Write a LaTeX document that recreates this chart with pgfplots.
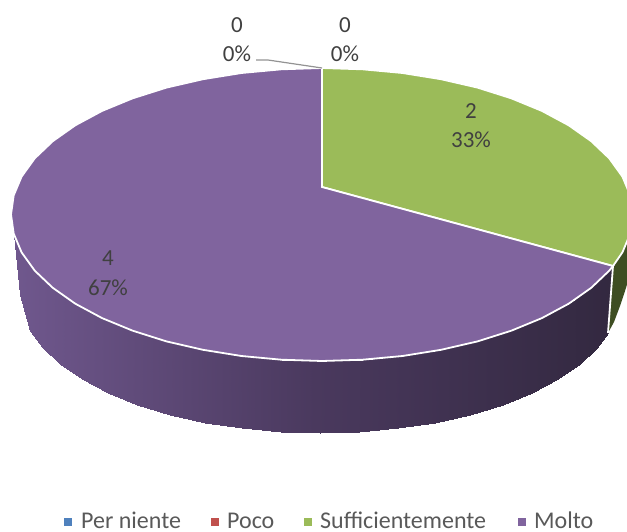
\documentclass[border=0pt]{standalone}
\usepackage{fontspec}
\setmainfont{Carlito}
\usepackage{pgfplots}
\pgfplotsset{compat=1.18}
\definecolor{cgreen}{RGB}{155,187,89}
\definecolor{cpurple}{RGB}{128,100,158}
\definecolor{cgreenside}{RGB}{62,78,34}
\definecolor{cblue}{RGB}{79,129,189}
\definecolor{cred}{RGB}{192,80,77}
\definecolor{ctext}{RGB}{64,64,64}
\definecolor{cleg}{RGB}{89,89,89}
\tikzset{lab/.style={font=\fontsize{23}{27}\selectfont,text=ctext,inner sep=0pt,anchor=base},
  leg/.style={font=\fontsize{24}{28}\selectfont,text=cleg,inner sep=0pt,anchor=base west}}
\begin{document}
\begin{tikzpicture}
\begin{axis}[
  scale only axis,width=627pt,height=531pt,
  xmin=0,xmax=627,ymin=0,ymax=531,y dir=reverse,
  hide axis,clip=true,
  colormap={side}{rgb255=(112,88,142) rgb255=(74,57,94) rgb255=(50,40,63)},
  colormap name=side,
  point meta min=10,point meta max=620,
]
% side of the purple slice
\addplot[surf,shader=interp,mesh/rows=2,point meta=x] coordinates {
  (13.7,233.6)(21.6,252.4)(34.7,270.6)(52.7,287.75)(75.3,303.7)(102.1,318.1)(132.7,330.7)(166.5,341.4)(203,349.8)(241.5,356)(281.4,359.7)(322,361)(362.6,359.7)(402.5,356)(441,349.8)(477.5,341.4)(511.3,330.7)(541.9,318.1)(568.7,303.7)(591.3,287.75)(609.3,270.6)(613,266)

  (20,295)(30.2,330.7)(42.8,347.8)(60.2,364)(82,379)(107.9,392.6)(137.4,404.5)(170,414.5)(205.2,422.5)(242.4,428.3)(280.8,431.8)(320,433)(359.2,431.8)(397.6,428.3)(434.8,422.5)(470,414.5)(502.6,404.5)(532.1,392.6)(558,379)(579.8,364)(597.2,347.8)(608,333)
};
% side of the green slice
\addplot[fill=cgreenside,draw=none] coordinates {
  (613,266)(622.4,252.4)(630.3,233.6)(633,260)(630,275)(625,291)(620,306)(614,322)(608,333)
} -- cycle;
% top: green
\addplot[fill=cgreen,draw=white,line width=1.8pt] coordinates {
  (322,187)(322,68)(362.6,69.3)(402.5,73)(441,79.2)(477.5,87.6)(511.3,98.3)(541.9,110.9)(568.7,125.3)(591.3,141.25)(609.3,158.4)(622.4,176.6)(630.3,195.4)(633,214.5)(630.3,233.6)(622.4,252.4)(613,266)
} -- cycle;
% top: purple
\addplot[fill=cpurple,draw=white,line width=1.8pt] coordinates {
  (322,187)(613,266)(609.3,270.6)(591.3,287.75)(568.7,303.7)(541.9,318.1)(511.3,330.7)(477.5,341.4)(441,349.8)(402.5,356)(362.6,359.7)(322,361)(281.4,359.7)(241.5,356)(203,349.8)(166.5,341.4)(132.7,330.7)(102.1,318.1)(75.3,303.7)(52.7,287.75)(34.7,270.6)(21.6,252.4)(13.7,233.6)(11,214.5)(13.7,195.4)(21.6,176.6)(34.7,158.4)(52.7,141.25)(75.3,125.3)(102.1,110.9)(132.7,98.3)(166.5,87.6)(203,79.2)(241.5,73)(281.4,69.3)(322,68)
} -- cycle;
% divider on the side
\addplot[white,line width=1.8pt] coordinates {(613,266)(608,333)};
% leader line
\addplot[color=gray!85,line width=1.2pt] coordinates {(256,60)(268,60)(322,68)};
% legend squares
\addplot[only marks,mark=square*,mark size=3.6pt,color=cblue] coordinates {(68,522)};
\addplot[only marks,mark=square*,mark size=3.6pt,color=cred] coordinates {(215,522)};
\addplot[only marks,mark=square*,mark size=3.6pt,color=cgreen] coordinates {(308,522)};
\addplot[only marks,mark=square*,mark size=3.6pt,color=cpurple] coordinates {(522,522)};
% data labels
\node[lab] at (axis cs:237,32) {0};
\node[lab] at (axis cs:237,61) {0\%};
\node[lab] at (axis cs:345,32) {0};
\node[lab] at (axis cs:345,61) {0\%};
\node[lab] at (axis cs:471,118) {2};
\node[lab] at (axis cs:471,147) {33\%};
\node[lab] at (axis cs:108,265) {4};
\node[lab] at (axis cs:108,295) {67\%};
% legend text
\node[leg] at (axis cs:81,528.3) {Per niente};
\node[leg] at (axis cs:227,528.3) {Poco};
\node[leg] at (axis cs:320,528.3) {Sufficientemente};
\node[leg] at (axis cs:534,528.3) {Molto};
\end{axis}
\path (current axis.south west) rectangle (current axis.north east);
\end{tikzpicture}
\end{document}
